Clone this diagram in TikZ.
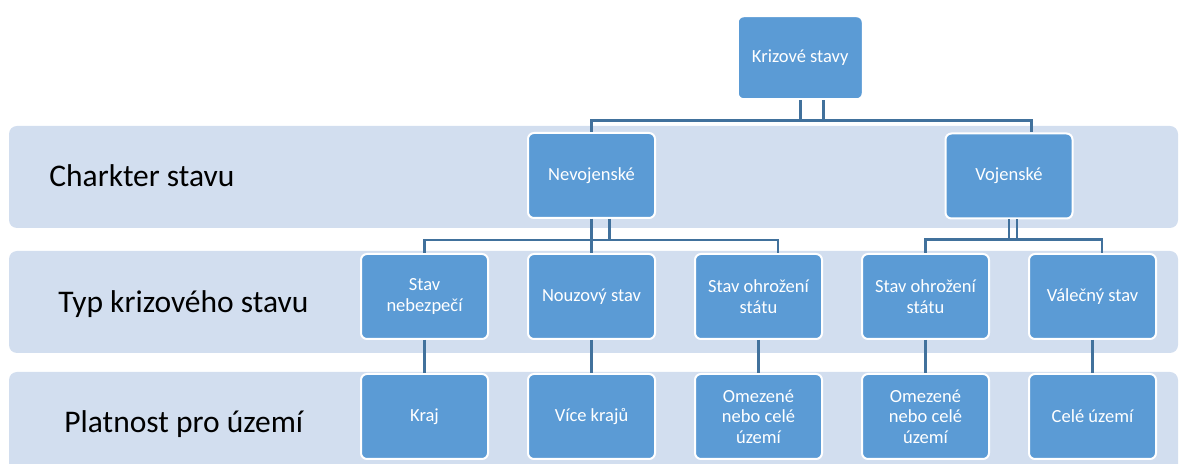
\documentclass[tikz,border=0pt]{standalone}
\usepackage{fontspec}
\setmainfont{Carlito}
\usetikzlibrary{calc}

\definecolor{boxblue}{RGB}{91,155,213}
\definecolor{bandblue}{RGB}{210,222,239}
\definecolor{lineblue}{RGB}{65,113,156}

\begin{document}
\begin{tikzpicture}[x=0.5pt,y=-0.5pt,
  box/.style = {draw=white, line width=1pt, fill=boxblue, rounded corners=3pt, minimum width=63.5pt, minimum height=42.5pt, inner sep=1pt, align=center, text=white, font=\fontsize{9.25}{10.3}\selectfont},
  band/.style = {fill=bandblue, rounded corners=4pt},
  lbl/.style = {anchor=base west, inner sep=0pt, font=\fontsize{15.75}{18}\selectfont},
  conn/.style = {draw=lineblue, line width=1.3pt},
  node distance={83.5pt}]
        \useasboundingbox (0,0) rectangle (1179,464);
        % bands
        \fill[band] (9,126) rectangle (1178,228);
        \fill[band] (9,251) rectangle (1178,353);
        \fill[band] (9,372) rectangle (1178,480);
        \node[lbl] (l1) at (49,187) {Charkter stavu};
        \node[lbl] (l2) at (58,313) {Typ krizového stavu};
        \node[lbl] (l3) at (64,433) {Platnost pro území};
        % typ
        \node[box] (nebez) at (424.5,296.5) {Stav\\nebezpečí};
        \node[box] (nouz) [right of=nebez] {Nouzový stav};
        \node[box] (ohroz1) [right of=nouz] {Stav ohrožení\\státu};
        \node[box] (ohroz2) [right of=ohroz1] {Stav ohrožení\\státu};
        \node[box] (valec) [right of=ohroz2] {Válečný stav};
        % platnost
        \node[box] (kraj) [below of=nebez, node distance=60pt] {Kraj};
        \node[box] (vice) [below of=nouz, node distance=60pt] {Více krajů};
        \node[box] (omez1) [below of=ohroz1, node distance=60pt] {Omezené\\nebo celé\\území};
        \node[box] (omez2) [below of=ohroz2, node distance=60pt] {Omezené\\nebo celé\\území};
        \node[box] (cele) [below of=valec, node distance=60pt] {Celé území};
        % charakter
        \node[box] (nevoj) [above of=nouz, node distance=60.5pt] {Nevojenské};
        \node[box] (voj) at ($(ohroz2)!0.5!(valec)+(0,-120.5)$) {Vojenské};
        \node[box, minimum width=62.5pt, minimum height=41.5pt] (krize) at ($(nevoj)!0.5!(voj)+(0,-118)$) {Krizové stavy};
        % spojnice
        \draw[conn] ([xshift=11.5pt]krize.south) -- ++(0,20) -| (nevoj.north);
        \draw[conn] (krize.south) -- ++(0,20) -| ([xshift=11.25pt]voj.north);
        \draw[conn] ([xshift=9pt]nevoj.south) -- ++(0,21) -| (nebez.north);
        \draw[conn] (nevoj.south) -- (nouz.north);
        \draw[conn] (nevoj.south) -- ++(0,21) -| ([xshift=9.75pt]ohroz1.north);
        \draw[conn] ([xshift=4pt]voj.south) -- ++(0,20) -| (ohroz2.north);
        \draw[conn] (voj.south) -- ++(0,20) -| ([xshift=4.75pt]valec.north);
        \draw[conn] (nebez) -- (kraj);
        \draw[conn] (nouz) -- (vice);
        \draw[conn] (ohroz1) -- (omez1);
        \draw[conn] (ohroz2) -- (omez2);
        \draw[conn] (valec) -- (cele);
\end{tikzpicture}
\end{document}
